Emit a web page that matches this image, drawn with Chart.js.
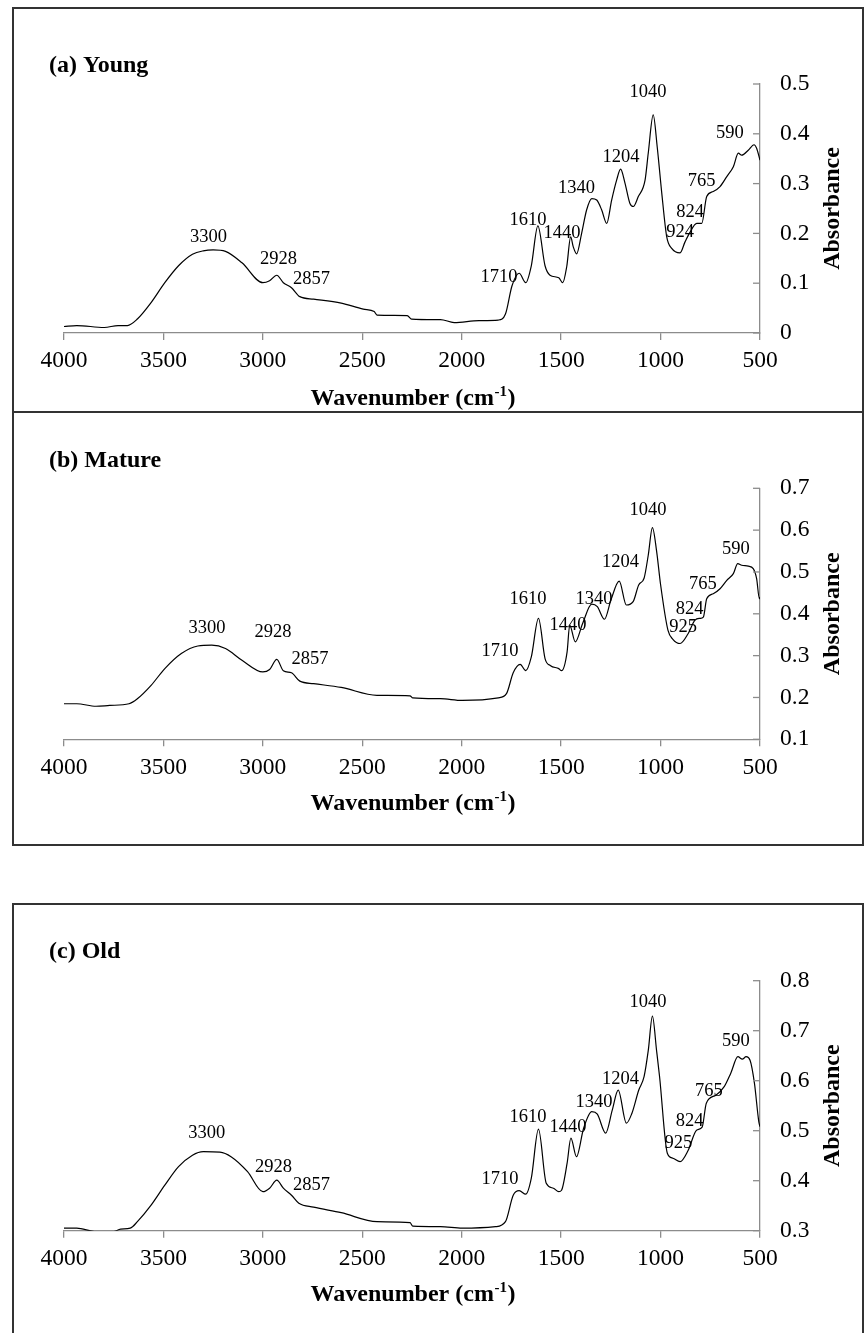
<!DOCTYPE html>
<html><head><meta charset="utf-8">
<script src="https://cdn.jsdelivr.net/npm/chart.js@4.4.1/dist/chart.umd.min.js"></script>
<style>
html,body{margin:0;padding:0;background:#fff;}
body{width:865px;height:1333px;position:relative;overflow:hidden;}
.box{position:absolute;box-sizing:border-box;border:2px solid #333;}
canvas{position:absolute;left:0;}
</style></head><body>
<div class="box" style="left:12px;top:7px;width:852px;height:406px"></div>
<div class="box" style="left:12px;top:411px;width:852px;height:435px"></div>
<div class="box" style="left:12px;top:903px;width:852px;height:460px"></div>
<canvas id="cA" width="865" height="404" style="top:8px"></canvas>
<canvas id="cB" width="865" height="433" style="top:412px"></canvas>
<canvas id="cC" width="865" height="429" style="top:904px"></canvas>
<script>
// ---------- DATA ----------
const xTicks = [4000,3500,3000,2500,2000,1500,1000,500];

const wnYoung = [4000,3936,3798,3728,3681,3631,3562,3493,3424,3354,
 3300,3250,3188,3105,3000,2966,2930,2897,2856,2814,2745,
 2606,2495,2440,2426,2274,2252,2135,2107,2038,1913,
 1816,1780,1747,1711,1678,1650,1617,1581,1556,1512,
 1492,1472,1452,1439,1422,1397,1372,1346,1321,1296,
 1271,1246,1221,1201,1179,1154,1137,1112,1078,1062,
 1037,1017,994,969,944,902,877,855,818,793,
 768,735,701,667,634,609,592,559,530,517,
 500];
const absYoung = [0.013,0.015,0.011,0.015,0.015,0.028,0.061,0.101,0.135,0.158,
 0.165,0.167,0.164,0.141,0.101,0.105,0.116,0.101,0.091,0.073,0.068,
 0.060,0.048,0.043,0.036,0.035,0.028,0.027,0.027,0.021,0.025,
 0.026,0.038,0.095,0.120,0.101,0.135,0.215,0.135,0.116,0.111,
 0.101,0.133,0.193,0.173,0.159,0.200,0.247,0.270,0.267,0.247,
 0.220,0.267,0.307,0.329,0.301,0.260,0.254,0.274,0.307,0.361,
 0.438,0.374,0.281,0.193,0.170,0.161,0.183,0.200,0.220,0.220,
 0.274,0.284,0.294,0.314,0.334,0.361,0.357,0.367,0.378,0.371,
 0.347];

const wnMature = [4000,3936,3839,3770,3673,3631,3562,3493,3410,3327,
 3257,3188,3105,3000,2966,2930,2897,2856,2814,2745,
 2606,2426,2260,2246,2107,1997,1816,1775,1741,1706,
 1678,1650,1614,1581,1553,1512,1498,1470,1457,1429,
 1392,1346,1318,1282,1249,1208,1172,1138,1110,1083,
 1062,1041,1020,1000,963,938,902,861,827,802,
 785,768,735,701,667,634,612,592,559,534,
 517,503,500];
const absMature = [0.185,0.185,0.179,0.181,0.185,0.197,0.229,0.269,0.305,0.323,
 0.325,0.317,0.289,0.261,0.267,0.291,0.264,0.259,0.239,0.233,
 0.224,0.205,0.204,0.199,0.197,0.193,0.199,0.209,0.259,0.279,
 0.264,0.297,0.389,0.293,0.276,0.269,0.264,0.309,0.373,0.333,
 0.377,0.423,0.417,0.387,0.434,0.478,0.421,0.429,0.469,0.485,
 0.540,0.606,0.550,0.470,0.361,0.339,0.329,0.353,0.385,0.389,
 0.392,0.436,0.448,0.460,0.480,0.496,0.520,0.516,0.514,0.508,
 0.484,0.436,0.440];

const wnOld = [4000,3936,3839,3756,3715,3667,3631,3562,3493,3424,
 3354,3299,3216,3160,3077,3000,2966,2930,2897,2856,
 2819,2745,2606,2426,2260,2246,2107,1997,1830,1780,
 1741,1711,1678,1650,1614,1575,1539,1512,1498,1470,
 1451,1423,1387,1346,1318,1276,1243,1213,1172,1144,
 1110,1083,1062,1041,1020,1005,966,938,902,861,
 819,791,770,722,680,647,611,589,570,550,
 528,506,500];
const absOld = [0.305,0.305,0.298,0.298,0.303,0.305,0.318,0.351,0.391,0.428,
 0.451,0.458,0.457,0.448,0.418,0.378,0.385,0.401,0.385,0.371,
 0.355,0.347,0.336,0.318,0.316,0.309,0.308,0.305,0.308,0.318,
 0.371,0.380,0.373,0.405,0.503,0.395,0.385,0.378,0.381,0.435,
 0.485,0.448,0.505,0.538,0.533,0.495,0.541,0.581,0.515,0.535,
 0.581,0.608,0.660,0.729,0.660,0.608,0.455,0.445,0.438,0.461,
 0.501,0.507,0.555,0.571,0.588,0.615,0.648,0.643,0.648,0.641,
 0.595,0.518,0.508];

// peak annotations (text, and the point where each label sits, in axis units)
const peaksYoung = ['3300','2928','2857','1710','1610','1440','1340','1204','1040','924','824','765','590'];
const peakWnYoung = [3273,2921,2755,1813,1667,1496,1423,1199,1063,902,852,793,651];
const peakAbsYoung = [0.193,0.149,0.108,0.112,0.227,0.201,0.291,0.354,0.483,0.202,0.242,0.304,0.401];

const peaksMature = ['3300','2928','2857','1710','1610','1440','1340','1204','1040','925','824','765','590'];
const peakWnMature = [3281,2949,2763,1807,1667,1466,1335,1201,1063,887,854,787,621];
const peakAbsMature = [0.365,0.355,0.291,0.311,0.435,0.373,0.435,0.524,0.647,0.368,0.412,0.472,0.554];

const peaksOld = ['3300','2928','2857','1710','1610','1440','1340','1204','1040','925','824','765','590'];
const peakWnOld = [3282,2947,2755,1807,1667,1466,1335,1201,1063,910,854,757,621];
const peakAbsOld = [0.495,0.428,0.391,0.403,0.528,0.507,0.557,0.603,0.758,0.475,0.519,0.579,0.680];

// ---------- DRAWING ----------
const SERIF = '"Liberation Serif","Times New Roman",serif';
const AXIS_GRAY = '#8c8c8c';

const decor = {
  id: 'decor',
  beforeDatasetsDraw(chart, args, o) {
    const {ctx, scales: {x, y}} = chart;
    ctx.save();
    ctx.fillStyle = '#000';
    ctx.font = '18.5px ' + SERIF;
    ctx.textAlign = 'center';
    ctx.textBaseline = 'middle';
    o.labels.forEach((t, i) => {
      ctx.fillText(t, x.getPixelForValue(o.lx[i]), y.getPixelForValue(o.ly[i]));
    });
    ctx.restore();
  },
  afterDraw(chart, args, o) {
    const {ctx, chartArea: ca, scales: {x, y}} = chart;
    ctx.save();
    // inward tick marks on the right-hand axis
    ctx.strokeStyle = AXIS_GRAY; ctx.lineWidth = 1.3;
    y.ticks.forEach((t, i) => {
      const py = y.getPixelForTick(i);
      ctx.beginPath(); ctx.moveTo(ca.right - 7, py); ctx.lineTo(ca.right, py); ctx.stroke();
    });
    ctx.fillStyle = '#000';
    // panel title
    ctx.font = 'bold 24px ' + SERIF;
    ctx.textAlign = 'left'; ctx.textBaseline = 'alphabetic';
    ctx.fillText(o.title, 49, o.titleBase);
    // y title
    ctx.save();
    ctx.translate(833, (ca.top + ca.bottom) / 2);
    ctx.rotate(-Math.PI / 2);
    ctx.textAlign = 'center'; ctx.textBaseline = 'middle';
    ctx.fillText('Absorbance', 0, 0);
    ctx.restore();
    // x title with superscript
    const big = 'bold 24px ' + SERIF, sm = 'bold 15px ' + SERIF;
    ctx.font = big; const w1 = ctx.measureText('Wavenumber (cm').width; const w3 = ctx.measureText(')').width;
    ctx.font = sm; const w2 = ctx.measureText('-1').width;
    const cx = (ca.left + ca.right) / 2 + 0.5;
    const base = ca.bottom + o.xTitleOff + 8;
    let x0 = cx - (w1 + w2 + w3) / 2;
    ctx.textAlign = 'left'; ctx.textBaseline = 'alphabetic';
    ctx.font = big; ctx.fillText('Wavenumber (cm', x0, base);
    ctx.font = sm; ctx.fillText('-1', x0 + w1 + 0.5, base - 9);
    ctx.font = big; ctx.fillText(')', x0 + w1 + w2 + 1, base);
    ctx.restore();
  }
};

function makeChart(id, wn, ab, yMin, yMax, padTop, xAxisH, title, titleBase, xTitleOff, labels, lx, ly) {
  const pts = wn.map((w, i) => ({x: w, y: ab[i]}));
  return new Chart(document.getElementById(id), {
    type: 'line',
    data: { datasets: [{ data: pts, borderColor: '#000', borderWidth: 1.2, pointRadius: 0,
      fill: false, cubicInterpolationMode: 'monotone' }] },
    options: {
      responsive: false, animation: false, devicePixelRatio: 1,
      layout: { padding: { left: 64, top: padTop, right: 0, bottom: 0 } },
      plugins: { legend: { display: false }, tooltip: { enabled: false },
        decor: { title, titleBase, xTitleOff, labels, lx, ly } },
      scales: {
        x: {
          type: 'linear', reverse: true, min: 500, max: 4000,
          afterBuildTicks: s => { s.ticks = xTicks.map(v => ({value: v})); },
          ticks: { font: { family: SERIF, size: 23.5 }, color: '#000', padding: 7, maxRotation: 0, autoSkip: false,
            callback: v => String(v) },
          grid: { display: true, drawOnChartArea: false, drawTicks: true, tickLength: 7, color: AXIS_GRAY, lineWidth: 1.3 },
          border: { display: true, color: AXIS_GRAY, width: 1.3 },
          afterFit: s => { s.height = xAxisH; }
        },
        y: {
          position: 'right', min: yMin, max: yMax,
          ticks: { stepSize: 0.1, font: { family: SERIF, size: 23.5 }, color: '#000', padding: 20,
            callback: v => String(Math.round(v * 10) / 10) },
          grid: { display: true, drawOnChartArea: false, drawTicks: false },
          border: { display: true, color: AXIS_GRAY, width: 1.3 },
          afterFit: s => { s.width = 105; }
        }
      }
    },
    plugins: [decor]
  });
}

makeChart('cA', wnYoung, absYoung, 0, 0.5, 76, 79, '(a) Young', 63.5, 64, peaksYoung, peakWnYoung, peakAbsYoung);
makeChart('cB', wnMature, absMature, 0.1, 0.7, 76.3, 105.7, '(b) Mature', 55, 62.5, peaksMature, peakWnMature, peakAbsMature);
makeChart('cC', wnOld, absOld, 0.3, 0.8, 76.7, 102.3, '(c) Old', 54, 62.5, peaksOld, peakWnOld, peakAbsOld);
</script>
</body></html>
